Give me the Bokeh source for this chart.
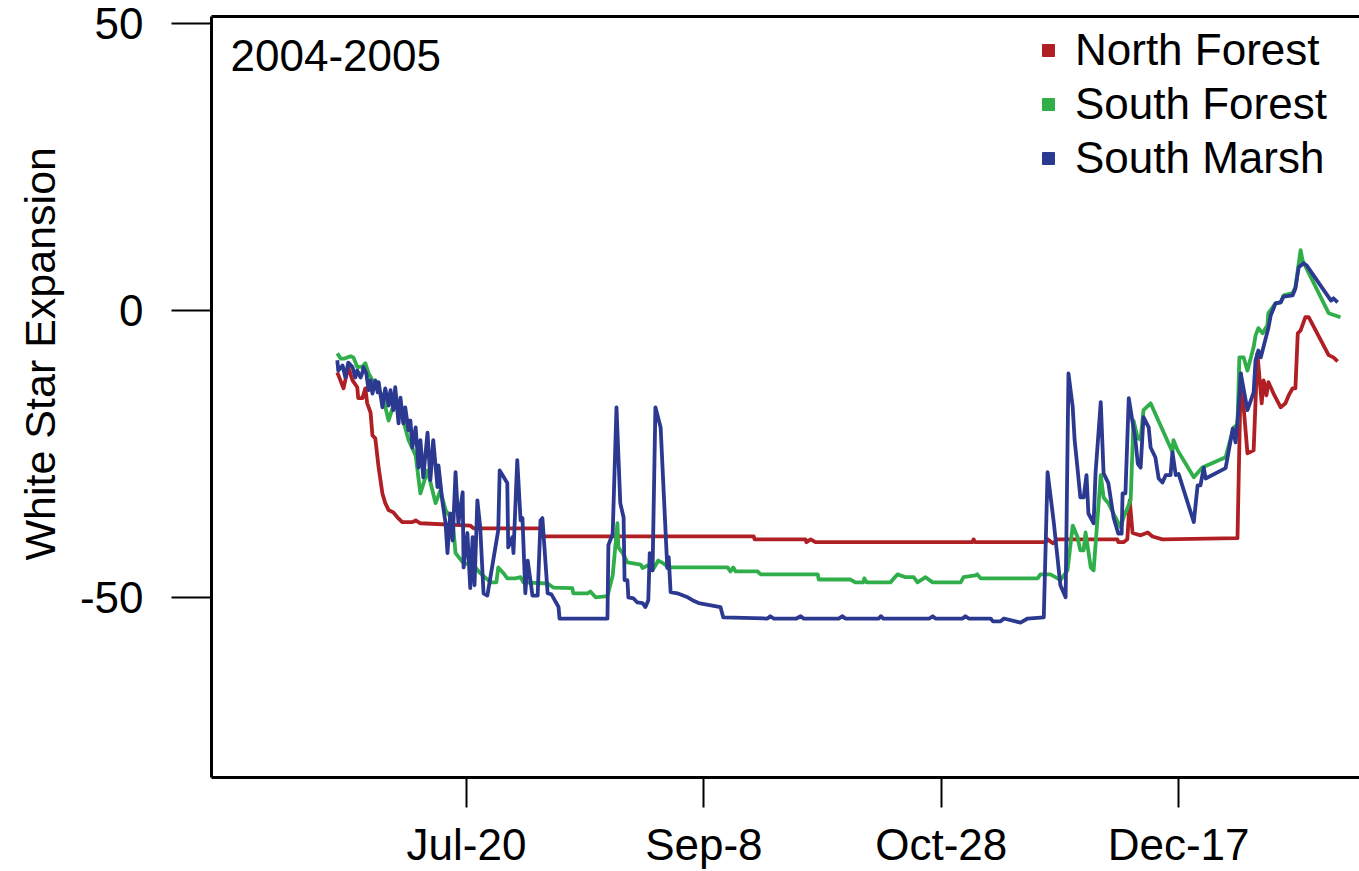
from bokeh.plotting import figure
from bokeh.models import (Range1d, FixedTicker, LinearAxis, Legend, LegendItem, Label, Title)
from bokeh.embed import file_html
from bokeh.resources import INLINE

# day numbers counted from 2004-01-01 (day 1); values = White Star Expansion
tick_days = [202, 252, 302, 352]
tick_labels = ["Jul-20", "Sep-8", "Oct-28", "Dec-17"]
y_ticks = [-50, 0, 50]
y_tick_labels = ["-50", "0", "50"]

nf_day = [174.8, 176.1, 177.1, 178.0, 179.0, 179.2, 180.1, 180.7, 181.1, 181.8, 182.2, 182.8, 183.5,
          184.3, 184.9, 185.6, 186.6, 187.5, 188.5, 190.6, 191.3, 192.3, 202.8, 203.5, 217.6, 217.8,
          262.5, 262.7, 273.4, 273.6, 274.5, 275.5, 308.6, 308.8, 309.2, 324.0, 324.4, 325.5, 326.5,
          339.1, 339.3, 340.4, 341.2, 341.7, 342.3, 344.0, 345.5, 346.5, 348.6, 364.4, 365.1, 365.7,
          366.5, 367.8, 368.6, 369.5, 369.9, 370.5, 370.9, 372.0, 373.5, 374.5, 375.2, 376.0, 376.6,
          377.1, 377.7, 378.7, 379.4, 383.6, 384.6, 385.5]
nf_val = [-10.8, -13.6, -9.9, -12.2, -13.4, -15.3, -15.3, -13.6, -16.2, -17.8, -21.8, -22.3, -27.4,
          -31.9, -33.6, -34.8, -35.2, -36.1, -36.9, -36.9, -36.6, -37.1, -37.5, -38.0, -38.0, -39.4,
          -39.4, -39.9, -39.9, -40.4, -39.9, -40.4, -40.4, -39.9, -40.4, -40.4, -39.9, -40.6, -39.9,
          -39.9, -40.4, -40.4, -39.9, -33.1, -38.8, -39.2, -38.7, -39.4, -39.9, -39.7, -11.0, -16.9,
          -24.9, -24.4, -7.5, -16.2, -12.2, -14.8, -12.5, -14.5, -16.9, -16.2, -14.8, -13.6, -13.6,
          -4.0, -3.5, -1.2, -1.2, -7.8, -8.2, -8.9]

sf_day = [174.8, 175.5, 176.3, 177.6, 178.2, 179.0, 180.1, 180.7, 181.4, 182.8, 184.3, 185.6, 186.6,
          188.1, 189.8, 191.3, 192.3, 193.8, 195.5, 196.5, 197.6, 199.1, 199.7, 201.4, 203.5, 204.9,
          207.1, 208.3, 208.7, 209.8, 210.6, 212.3, 213.4, 214.0, 219.1, 220.3, 224.3, 224.5, 227.5,
          228.1, 229.2, 231.7, 232.8, 233.0, 233.8, 234.0, 234.9, 235.9, 238.7, 239.1, 240.3, 241.2,
          242.4, 243.5, 244.6, 257.0, 257.6, 258.2, 258.7, 263.3, 264.0, 276.0, 276.2, 282.9, 283.9,
          285.6, 285.8, 286.3, 291.3, 292.8, 294.5, 296.2, 297.0, 298.7, 300.2, 306.1, 306.7, 309.2,
          309.6, 310.3, 322.3, 322.9, 325.0, 326.5, 327.1, 328.6, 329.7, 330.7, 331.3, 332.0, 332.4,
          333.5, 334.1, 335.6, 336.2, 337.2, 338.7, 339.8, 340.4, 341.9, 342.5, 343.4, 344.0, 344.6,
          346.1, 350.7, 350.9, 351.8, 355.2, 357.0, 361.9, 363.6, 364.4, 364.8, 365.7, 366.5, 367.8,
          368.2, 368.8, 369.7, 370.7, 370.9, 372.4, 373.5, 374.1, 376.0, 376.6, 377.1, 377.7, 378.1,
          383.6, 386.1]
sf_val = [-7.5, -8.4, -8.4, -8.0, -8.2, -9.9, -9.8, -9.2, -11.0, -13.1, -14.8, -19.2, -16.6,
          -17.4, -22.6, -25.3, -31.9, -27.9, -33.6, -31.4, -34.8, -36.6, -42.3, -44.1, -44.4, -45.8,
          -47.4, -47.4, -44.8, -45.8, -46.7, -46.7, -46.5, -47.4, -47.6, -48.3, -48.4, -49.3, -49.3,
          -49.0, -50.0, -49.8, -46.2, -44.4, -37.1, -41.3, -42.3, -43.9, -44.3, -44.9, -44.4, -45.3,
          -43.6, -44.1, -44.8, -44.8, -45.5, -44.8, -45.5, -45.5, -46.0, -46.0, -46.9, -46.9, -47.4,
          -47.4, -46.7, -47.4, -47.4, -46.0, -46.5, -46.5, -47.4, -46.5, -47.4, -47.4, -46.5, -46.2,
          -46.0, -46.7, -46.7, -46.0, -46.0, -46.7, -47.0, -45.3, -37.5, -39.5, -41.8, -41.8, -38.7,
          -44.8, -45.3, -28.7, -32.6, -33.6, -36.1, -37.8, -36.1, -33.1, -19.2, -22.3, -22.5, -17.4,
          -16.2, -24.7, -22.6, -24.4, -29.1, -27.4, -25.6, -20.4, -19.9, -8.2, -8.2, -10.5, -6.4,
          -4.4, -3.1, -4.0, -2.6, -0.5, 1.2, 1.4, 2.6, 3.0, 4.0, 7.0, 10.5, 8.7,
          -0.5, -1.2]

sm_day = [174.8, 175.0, 175.9, 176.5, 177.1, 178.0, 178.6, 179.0, 179.7, 180.1, 180.3, 180.9, 181.4,
          181.8, 182.2, 182.8, 183.3, 183.5, 184.3, 184.9, 185.6, 186.0, 186.6, 187.0, 187.7, 188.1,
          188.7, 189.1, 189.8, 190.2, 190.6, 191.3, 191.9, 192.3, 192.9, 193.8, 194.4, 195.0, 195.9,
          196.1, 196.9, 197.6, 198.0, 198.6, 199.1, 199.7, 200.3, 201.2, 201.4, 202.2, 202.8, 203.3,
          203.7, 204.3, 204.9, 205.6, 206.4, 208.7, 209.0, 210.6, 210.8, 211.7, 211.9, 212.7, 213.4,
          213.8, 214.4, 214.9, 215.9, 217.0, 217.6, 218.0, 219.1, 219.9, 221.4, 221.6, 231.7, 231.9,
          232.8, 233.6, 234.4, 235.1, 235.3, 235.9, 236.1, 237.2, 238.0, 239.1, 239.7, 240.3, 240.6,
          241.2, 241.8, 242.9, 244.3, 244.6, 245.0, 246.4, 248.6, 249.6, 250.9, 255.5, 256.1, 265.4,
          266.0, 266.7, 271.5, 272.4, 273.0, 280.4, 281.2, 281.8, 288.8, 289.3, 289.8, 299.5, 300.2,
          300.8, 306.5, 307.1, 307.8, 312.4, 312.9, 314.5, 315.2, 318.7, 320.2, 323.6, 324.4, 325.7,
          327.1, 328.2, 328.8, 329.7, 330.1, 330.7, 331.3, 332.0, 332.6, 333.0, 334.1, 334.5, 335.6,
          336.2, 337.2, 338.3, 339.3, 340.0, 340.2, 340.8, 341.5, 342.9, 343.4, 344.0, 344.6, 345.7,
          346.1, 347.1, 347.8, 348.6, 349.3, 350.3, 350.7, 351.4, 352.0, 355.2, 356.0, 356.6, 357.3,
          357.7, 361.9, 363.4, 364.0, 364.6, 365.1, 366.5, 367.8, 368.2, 368.8, 369.3, 370.9, 371.4,
          372.4, 373.5, 374.1, 376.0, 376.6, 377.3, 378.3, 379.0, 384.1, 384.6, 385.5]
sm_val = [-8.7, -10.5, -9.6, -11.7, -9.1, -9.9, -11.7, -10.5, -11.7, -10.8, -9.9, -11.0, -13.9,
          -12.2, -14.5, -12.2, -14.3, -12.5, -16.9, -13.6, -16.6, -13.9, -17.4, -13.4, -19.7, -15.2,
          -19.7, -16.9, -20.9, -19.2, -23.9, -20.4, -27.4, -22.6, -29.1, -21.3, -29.6, -22.6, -30.8,
          -27.0, -33.1, -37.1, -42.3, -35.4, -40.1, -28.2, -37.1, -31.7, -44.8, -38.8, -48.4, -39.5,
          -47.9, -33.1, -37.8, -49.3, -49.7, -38.3, -27.9, -30.1, -41.3, -39.5, -42.3, -26.1, -36.6,
          -36.2, -49.3, -43.6, -49.7, -49.7, -36.6, -36.2, -49.3, -49.5, -51.7, -53.7, -53.7, -40.9,
          -38.9, -16.9, -33.6, -36.1, -47.0, -47.0, -50.0, -50.2, -50.9, -51.0, -51.7, -50.5, -42.3,
          -45.3, -16.9, -20.4, -44.9, -43.0, -49.1, -49.3, -50.0, -50.5, -51.0, -51.7, -53.5, -53.7,
          -53.3, -53.7, -53.7, -53.3, -53.7, -53.7, -53.3, -53.7, -53.7, -53.3, -53.7, -53.7, -53.3,
          -53.7, -53.7, -53.3, -53.7, -53.7, -54.2, -54.2, -53.7, -54.4, -53.7, -53.5, -28.2, -36.9,
          -47.9, -50.0, -11.0, -16.9, -22.6, -27.5, -32.6, -32.6, -28.7, -35.4, -37.1, -28.4, -16.0,
          -28.4, -30.1, -36.1, -38.9, -38.9, -31.9, -31.9, -15.3, -22.6, -26.7, -27.4, -18.6, -20.4,
          -23.9, -25.6, -29.3, -30.0, -28.7, -28.7, -24.7, -28.7, -28.5, -36.9, -30.5, -30.5, -27.4,
          -29.3, -27.5, -20.6, -23.0, -17.4, -11.0, -17.4, -14.3, -8.7, -7.0, -8.2, -3.1, -0.9,
          1.2, 1.4, 2.4, 2.6, 3.8, 7.5, 8.2, 7.8, 1.7, 2.1, 1.4]

series_names = ["North Forest", "South Forest", "South Marsh"]
series_colors = ["#B01F24", "#2FAE4A", "#2B3990"]

FONT = "Liberation Sans"
FS = "44px"

p = figure(frame_width=1148, frame_height=761, output_backend="svg", toolbar_location=None,
           x_range=Range1d(148.3, 390.1), y_range=Range1d(-81.4, 51.2),
           min_border_left=211, min_border_right=0, min_border_top=16, min_border_bottom=80,
           background_fill_color="white", border_fill_color="white")
p.outline_line_color = None
p.xgrid.visible = False
p.ygrid.visible = False

for ax in (p.xaxis[0], p.yaxis[0]):
    ax.axis_line_width = 3
    ax.axis_line_color = "black"
    ax.major_tick_line_width = 2
    ax.major_tick_line_color = "black"
    ax.minor_tick_line_color = None
    ax.major_tick_in = 0
    ax.major_label_text_font = FONT
    ax.major_label_text_font_size = FS
    ax.major_label_text_color = "black"

p.xaxis.ticker = FixedTicker(ticks=tick_days)
p.xaxis.major_label_overrides = {d: l for d, l in zip(tick_days, tick_labels)}
p.xaxis.major_tick_out = 30
p.xaxis.major_label_standoff = 12

p.yaxis.ticker = FixedTicker(ticks=y_ticks)
p.yaxis.major_label_overrides = {t: l for t, l in zip(y_ticks, y_tick_labels)}
p.yaxis.major_tick_out = 40
p.yaxis.major_label_standoff = 28

top_axis = LinearAxis(axis_line_width=3, axis_line_color="black", major_tick_line_color=None,
                      minor_tick_line_color=None, major_label_text_font_size="0px",
                      major_label_text_color=None, ticker=FixedTicker(ticks=[]))
p.add_layout(top_axis, "above")

# y-axis title, placed as a side title so it can sit a little above the frame's middle
p.add_layout(Title(text="White Star Expansion", align="left", offset=217, standoff=26,
                   text_font=FONT, text_font_size="43px", text_font_style="normal",
                   text_color="black"), "left")

data = [(nf_day, nf_val), (sf_day, sf_val), (sm_day, sm_val)]
items = []
for (d, v), name, col in zip(data, series_names, series_colors):
    p.line(d, v, line_color=col, line_width=3.8, line_join="round")
    # legend key marker (drawn at the series' last point with zero size in the plot)
    r = p.scatter(d[-1:], v[-1:], marker="square", fill_color=col, line_color=col, size=0)
    items.append(LegendItem(label=name, renderers=[r]))

legend = Legend(items=items, location=(822, 592), orientation="vertical",
                label_text_font=FONT, label_text_font_size=FS, label_text_color="black",
                glyph_width=30, glyph_height=54, label_height=54, label_standoff=12,
                spacing=0, padding=0, margin=0, border_line_color=None,
                background_fill_alpha=0)
p.add_layout(legend)

p.add_layout(Label(x=19, y=722, x_units="screen", y_units="screen", text="2004-2005",
                   text_font=FONT, text_font_size=FS, text_baseline="middle",
                   text_color="black"))

open("out.html", "w").write(file_html(p, INLINE))
